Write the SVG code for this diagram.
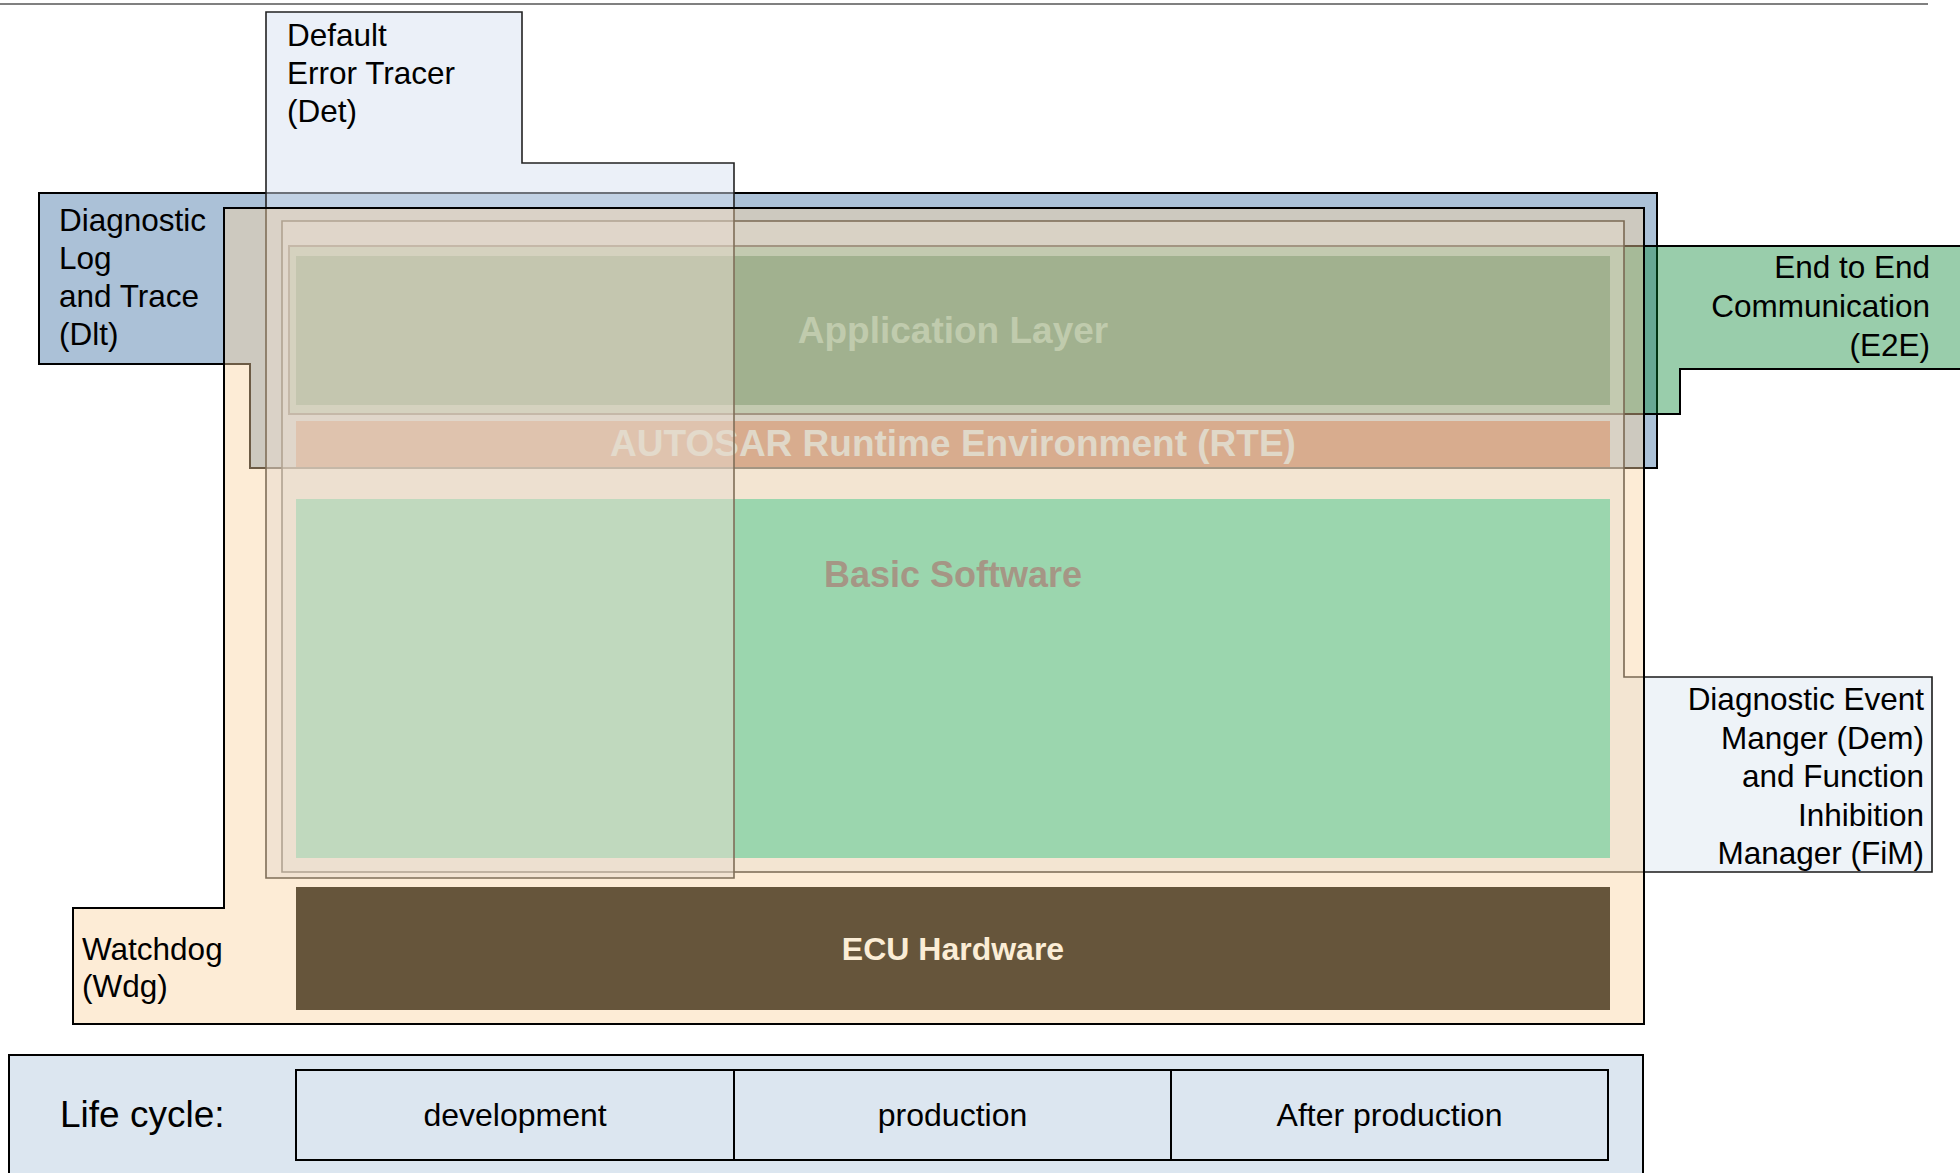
<svg xmlns="http://www.w3.org/2000/svg" width="1960" height="1173" viewBox="0 0 1960 1173">
<style>
text { font-family: "Liberation Sans", Arial, sans-serif; }
.lbl { font-size: 31.5px; fill: #000; }
.end { text-anchor: end; }
.layer { font-weight: bold; font-size: 37px; text-anchor: middle; }
.cell { font-size: 32px; fill: #000; text-anchor: middle; }
.blk { stroke: #000; stroke-width: 2; stroke-linejoin: miter; }
</style>
<rect width="1960" height="1173" fill="#ffffff"/>
<line x1="0" y1="4" x2="1928" y2="4" stroke="#808080" stroke-width="2"/>

<g id="dlt">
  <path class="blk" d="M39,193 H1657 V468 H250 V364 H39 Z" fill="#abc1d7"/>
  <text class="lbl" x="59" y="231">Diagnostic</text>
  <text class="lbl" x="59" y="269">Log</text>
  <text class="lbl" x="59" y="307">and Trace</text>
  <text class="lbl" x="59" y="345">(Dlt)</text>
</g>

<g id="e2e">
  <path class="blk" d="M289,246 H1963 V369 H1680 V414 H289 Z" fill="#00822d" fill-opacity="0.4"/>
  <text class="lbl end" x="1930" y="278">End to End</text>
  <text class="lbl end" x="1930" y="317">Communication</text>
  <text class="lbl end" x="1930" y="356">(E2E)</text>
</g>

<g id="dem">
  <path d="M282,221 H1624 V677 H1932 V872 H282 Z" fill="#dae4f0" fill-opacity="0.45" stroke="#1a1a1a" stroke-width="1.6"/>
  <text class="lbl end" x="1924" y="710">Diagnostic Event</text>
  <text class="lbl end" x="1924" y="748.5">Manger (Dem)</text>
  <text class="lbl end" x="1924" y="787">and Function</text>
  <text class="lbl end" x="1924" y="825.5">Inhibition</text>
  <text class="lbl end" x="1924" y="864">Manager (FiM)</text>
</g>

<g id="app">
  <rect x="296" y="256" width="1314" height="149" fill="#5e9783"/>
  <text class="layer" x="953" y="343" fill="#95c6b8">Application Layer</text>
</g>

<g id="rte">
  <rect x="296" y="421" width="1314" height="46" fill="#be8f81"/>
  <text class="layer" x="953" y="456" fill="#ccdce7">AUTOSAR Runtime Environment (RTE)</text>
</g>

<g id="bsw">
  <rect x="296" y="499" width="1314" height="359" fill="#53d8b9"/>
  <text class="layer" x="953" y="587" fill="#656871" style="font-size:36px">Basic Software</text>
</g>

<g id="det">
  <path d="M266,12 H522 V163 H734 V878 H266 Z" fill="#d7e1f1" fill-opacity="0.5" stroke="#222" stroke-width="1.6"/>
  <text class="lbl" x="287" y="46">Default</text>
  <text class="lbl" x="287" y="84">Error Tracer</text>
  <text class="lbl" x="287" y="122">(Det)</text>
</g>

<g id="wdg">
  <path class="blk" d="M224,208 H1644 V1024 H73 V908 H224 Z" fill="#fad39f" fill-opacity="0.43"/>
  <text class="lbl" x="82" y="960">Watchdog</text>
  <text class="lbl" x="82" y="997">(Wdg)</text>
</g>

<g id="ecu">
  <rect x="296" y="887" width="1314" height="123" fill="#66553b"/>
  <text class="layer" x="953" y="960" fill="#fbedd6" style="font-size:32px">ECU Hardware</text>
</g>

<g id="lifecycle">
  <rect class="blk" x="9" y="1055" width="1634" height="130" fill="#dce6f0"/>
  <text x="60" y="1127" style="font-size:37px" fill="#000">Life cycle:</text>
  <rect class="blk" x="296" y="1070" width="438" height="90" fill="#dce6f0"/>
  <rect class="blk" x="734" y="1070" width="437" height="90" fill="#dce6f0"/>
  <rect class="blk" x="1171" y="1070" width="437" height="90" fill="#dce6f0"/>
  <text class="cell" x="515" y="1126">development</text>
  <text class="cell" x="952.5" y="1126">production</text>
  <text class="cell" x="1389.5" y="1126">After production</text>
</g>

<g id="connectors"></g>
</svg>
